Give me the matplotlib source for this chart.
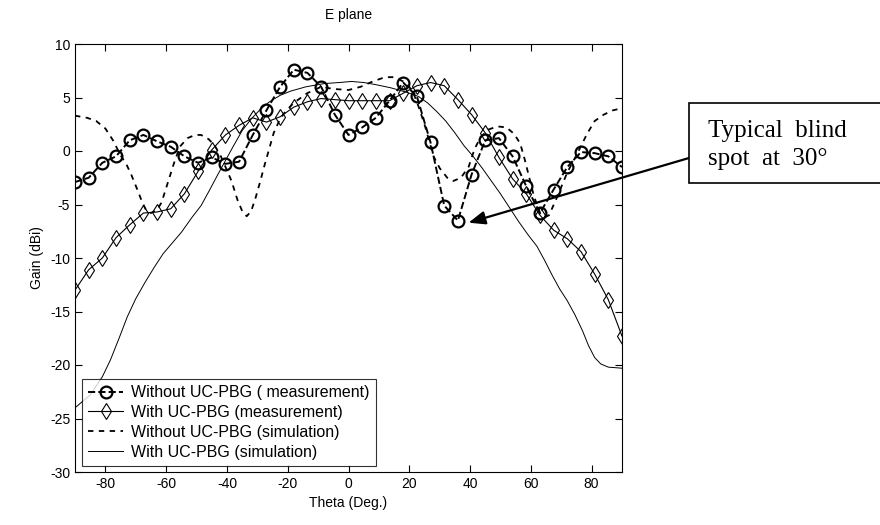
import matplotlib
matplotlib.use("Agg")
import matplotlib.pyplot as plt
from matplotlib.patches import Rectangle

# measured angles (deg)
theta_meas = [-90, -85.5, -81, -76.5, -72, -67.5, -63, -58.5, -54, -49.5, -45,
              -40.5, -36, -31.5, -27, -22.5, -18, -13.5, -9, -4.5, 0, 4.5, 9,
              13.5, 18, 22.5, 27, 31.5, 36, 40.5, 45, 49.5, 54, 58.5, 63, 67.5,
              72, 76.5, 81, 85.5, 90]

without_meas = [-2.9, -2.5, -1.1, -0.5, 1.0, 1.5, 0.9, 0.4, -0.5, -1.1, -0.6,
                -1.2, -1.0, 1.5, 3.8, 6.0, 7.6, 7.3, 6.0, 3.4, 1.5, 2.2, 3.1,
                4.7, 6.4, 5.1, 0.8, -5.1, -6.5, -2.2, 1.0, 1.2, -0.5, -3.3, -5.8,
                -3.6, -1.5, -0.1, -0.2, -0.5, -1.5]

with_meas = [-13.0, -11.1, -10.0, -8.1, -6.9, -5.8, -5.7, -5.4, -4.0, -1.9, 0.1,
             1.5, 2.4, 3.1, 2.7, 3.2, 4.1, 4.6, 4.9, 4.8, 4.7, 4.7, 4.7,
             4.7, 5.4, 6.1, 6.4, 6.1, 4.8, 3.4, 1.7, -0.6, -2.6, -4.0, -6.0,
             -7.4, -8.2, -9.4, -11.5, -13.9, -17.3]

theta_sim_wo = [-90, -86, -83, -80, -77.5, -75, -73, -71.5, -69.5, -68, -66.5,
                -65, -63, -61.5, -59.5, -57.5, -55.5, -53, -50.5, -48.5, -46,
                -44, -42, -40, -38.5, -36.5, -35, -33.5, -32, -30.5, -29, -27.8,
                -26, -24.6, -23, -21.3, -18, -13.6, -9, -5, 0, 4, 8, 12, 15, 18,
                20, 21.5, 23, 25, 26.5, 28, 30, 32.5, 34.5, 37, 39.5, 41.5, 43.5,
                46, 49, 52, 54.5, 56.5, 58, 59.5, 61, 63, 64.5, 66, 68.5, 72, 75,
                78.5, 81, 84, 87, 90]
without_sim = [3.3, 3.1, 2.8, 2.1, 1.0, -0.4, -1.3, -2.2, -3.6, -4.7, -5.6,
               -5.8, -5.5, -4.8, -3.0, -1.2, 0.4, 1.2, 1.5, 1.5, 1.1,
               0.5, -0.5, -1.8, -2.8, -4.6, -5.6, -6.1, -5.6, -4.3, -2.8, -1.5,
               0.3, 1.7, 2.7, 3.5, 4.5, 5.4, 6.0, 5.8, 5.7, 6.0, 6.5, 6.9, 6.9, 6.5,
               6.0, 5.3, 4.2, 2.5, 1.0, -0.5, -1.6, -2.5, -2.8, -2.5, -1.5, 0.2, 1.3,
               2.0, 2.3, 2.2, 1.6, 0.7, -0.8, -2.5, -4.2, -5.8, -6.2, -6.0, -4.4, -2.0, -0.4,
               1.6, 2.8, 3.4, 3.8, 4.0]

theta_sim_w = [-90, -85, -81, -78.3, -75.5, -72.8, -70, -67, -64, -61, -58, -55,
               -51.5, -48.5, -46, -43, -40.5, -38, -35, -32, -29, -26, -22.5,
               -19, -14, -8, -3, 1, 5, 9, 14, 19, 23, 26, 29, 32, 35, 38, 41,
               44, 47, 50, 53, 56, 59, 62, 64.5, 67, 69.5, 72, 74.5, 77, 79, 81,
               83, 85.5, 90]
with_sim = [-24.0, -22.8, -21.1, -19.5, -17.5, -15.5, -13.8, -12.3, -10.9, -9.6,
            -8.6, -7.6, -6.2, -5.1, -3.8, -2.2, -0.9, 0.4, 1.9, 3.0, 3.9, 4.6,
            5.2, 5.6, 6.0, 6.3, 6.4, 6.5, 6.4, 6.2, 5.9, 5.5, 5.1, 4.5, 3.7, 2.8,
            1.7, 0.5, -0.5, -1.6, -2.8, -4.0, -5.3, -6.6, -7.8, -8.9, -10.2, -11.6,
            -12.9, -14.0, -15.3, -16.8, -18.2, -19.3, -19.9, -20.2, -20.3]

labels = ["Without UC-PBG ( measurement)", "With UC-PBG (measurement)",
          "Without UC-PBG (simulation)", "With UC-PBG (simulation)"]

plt.rcParams['font.family'] = ['Liberation Sans', 'DejaVu Sans']
plt.rcParams['axes.unicode_minus'] = False

W, H = 880, 525
fig = plt.figure(figsize=(8.8, 5.25), dpi=100)
ax = fig.add_axes([75 / W, 1 - 472 / H, 547 / W, 428 / H])

ax.plot(theta_meas, without_meas, color='black', ls='--', lw=1.4, marker='o',
        ms=8.5, mfc='none', mew=1.6, label=labels[0])
ax.plot(theta_meas, with_meas, color='black', ls='-', lw=0.8, marker='d',
        ms=8, mfc='none', mew=0.8, label=labels[1])
ax.plot(theta_sim_wo, without_sim, color='black', ls=(0, (3, 3)), lw=1.3,
        label=labels[2])
ax.plot(theta_sim_w, with_sim, color='black', ls='-', lw=0.7, label=labels[3])

ax.set_xlim(-90, 90)
ax.set_ylim(-30, 10)
ax.set_xticks(range(-80, 81, 20))
ax.set_yticks(range(-30, 11, 5))
ax.tick_params(direction='in', top=True, right=True, length=5, labelsize=10)
ax.set_title("E plane", fontsize=10, pad=18)
ax.set_xlabel("Theta (Deg.)", fontsize=10)
ax.set_ylabel("Gain (dBi)", fontsize=10)

leg = ax.legend(loc='lower left', bbox_to_anchor=(0.012, 0.014), fontsize=11.5,
                frameon=True, fancybox=False, edgecolor='black', handlelength=2.2,
                borderpad=0.4, labelspacing=0.3, handletextpad=0.5,
                borderaxespad=0)
leg.get_frame().set_linewidth(0.8)

# annotation box (runs off the right edge) with arrow to the blind spot
fig.patches.append(Rectangle((689 / W, 1 - 183 / H), 200 / W, 80 / H,
                             transform=fig.transFigure, fc='white', ec='black',
                             lw=1.2, clip_on=False))
fig.text(708 / W, 1 - 145 / H, "Typical  blind\nspot  at  30\u00b0",
         family=['Liberation Serif', 'DejaVu Serif'], fontsize=18,
         ha='left', va='center', linespacing=1.35)
ax.annotate("", xy=(39.5, -6.7), xycoords='data',
            xytext=(689 / W, 1 - 158 / H), textcoords='figure fraction',
            arrowprops=dict(arrowstyle='-|>,head_length=1.0,head_width=0.4',
                            color='black', lw=1.6, shrinkA=0, shrinkB=0),
            annotation_clip=False)

fig.savefig("out.png", dpi=100)
